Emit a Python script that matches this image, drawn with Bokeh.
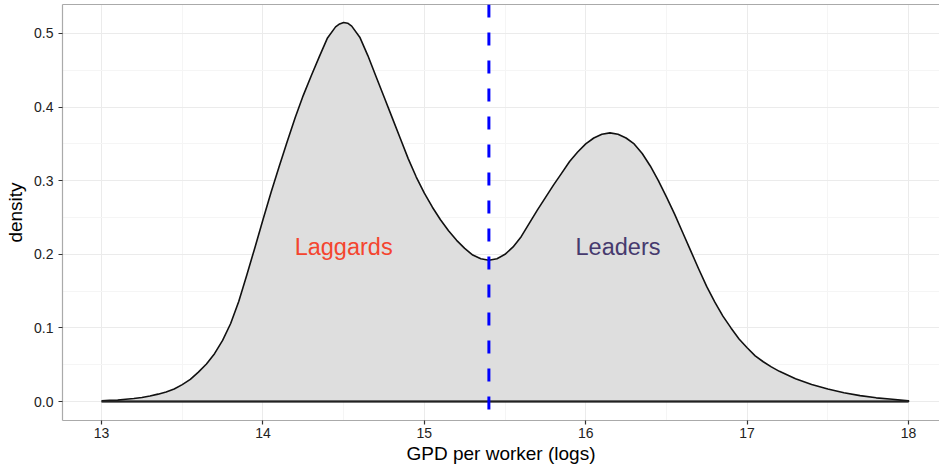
from bokeh.plotting import figure
from bokeh.models import Span, LinearAxis, Range1d, ColumnDataSource, FixedTicker, CustomJSTickFormatter
from bokeh.core.properties import value
from bokeh.embed import file_html
from bokeh.resources import INLINE

# ---- data ----
gdp_log = [13.00, 13.05, 13.10, 13.15, 13.20, 13.25, 13.30, 13.35, 13.40, 13.45,
           13.50, 13.55, 13.60, 13.65, 13.70, 13.75, 13.80, 13.85, 13.90, 13.95,
           14.00, 14.05, 14.10, 14.15, 14.20, 14.25, 14.30, 14.35, 14.40, 14.45,
           14.475, 14.50, 14.525, 14.55, 14.60, 14.65, 14.70, 14.75, 14.80, 14.85,
           14.90, 14.95, 15.00, 15.05, 15.10, 15.15, 15.20, 15.25, 15.30, 15.35,
           15.40, 15.45, 15.50, 15.55, 15.60, 15.65, 15.70, 15.75, 15.80, 15.85,
           15.90, 15.95, 16.00, 16.05, 16.10, 16.15, 16.20, 16.25, 16.30, 16.35,
           16.40, 16.45, 16.50, 16.55, 16.60, 16.65, 16.70, 16.75, 16.80, 16.85,
           16.90, 16.95, 17.00, 17.05, 17.10, 17.15, 17.20, 17.30, 17.40, 17.50,
           17.60, 17.70, 17.80, 17.90, 18.00]
density = [0.001, 0.0015, 0.002, 0.003, 0.004, 0.0055, 0.0075, 0.010, 0.013, 0.017,
           0.023, 0.030, 0.040, 0.051, 0.065, 0.083, 0.106, 0.136, 0.172, 0.209,
           0.247, 0.284, 0.319, 0.353, 0.386, 0.416, 0.443, 0.469, 0.494, 0.509,
           0.513, 0.515, 0.514, 0.510, 0.495, 0.470, 0.442, 0.414, 0.386, 0.358,
           0.330, 0.305, 0.283, 0.264, 0.247, 0.232, 0.219, 0.208, 0.199, 0.194,
           0.192, 0.194, 0.200, 0.210, 0.224, 0.242, 0.260, 0.277, 0.294, 0.310,
           0.326, 0.339, 0.350, 0.358, 0.363, 0.365, 0.363, 0.358, 0.350, 0.337,
           0.320, 0.300, 0.278, 0.255, 0.230, 0.205, 0.180, 0.156, 0.135, 0.116,
           0.100, 0.085, 0.073, 0.062, 0.054, 0.047, 0.041, 0.031, 0.023, 0.017,
           0.012, 0.008, 0.005, 0.003, 0.001]
cutoff = 15.4
label_x = [14.5, 16.2]
label_y = [0.21, 0.21]
label_text = ["Laggards", "Leaders"]
label_color = ["#F4452F", "#463A6E"]
x_ticks = [13, 14, 15, 16, 17, 18]
y_ticks = [0.0, 0.1, 0.2, 0.3, 0.4, 0.5]
x_minor = [13.5, 14.5, 15.5, 16.5, 17.5]
y_minor = [0.05, 0.15, 0.25, 0.35, 0.45]

FONT = "Liberation Sans"

p = figure(width=939, height=472, output_backend="svg", toolbar_location=None,
           x_range=Range1d(12.758, 18.192), y_range=Range1d(-0.0258, 0.5394),
           min_border_left=62, min_border_right=0, min_border_top=4, min_border_bottom=52)
p.outline_line_color = None
p.background_fill_color = "white"
p.border_fill_color = "white"

# grids
p.xgrid.ticker = FixedTicker(ticks=x_ticks, minor_ticks=x_minor)
p.ygrid.ticker = FixedTicker(ticks=y_ticks, minor_ticks=y_minor)
for g in (p.xgrid, p.ygrid):
    g.grid_line_color = "#EBEBEB"
    g.grid_line_width = 1
    g.minor_grid_line_color = "#F5F5F5"
    g.minor_grid_line_width = 1

# axes
p.xaxis.ticker = FixedTicker(ticks=x_ticks)
p.yaxis.ticker = FixedTicker(ticks=y_ticks)
p.yaxis.formatter = CustomJSTickFormatter(code="return tick.toFixed(1);")
p.xaxis.axis_label = "GPD per worker (logs)"
p.yaxis.axis_label = "density"
for ax in (p.xaxis[0], p.yaxis[0]):
    ax.axis_line_color = "#AAAAAA"
    ax.axis_line_width = 1.2
    ax.major_tick_line_color = "#333333"
    ax.major_tick_line_width = 1.2
    ax.major_tick_out = 4
    ax.major_tick_in = 0
    ax.minor_tick_line_color = None
    ax.major_label_text_font = FONT
    ax.major_label_text_font_size = "14px"
    ax.major_label_text_color = "#222222"
    ax.axis_label_text_font = FONT
    ax.axis_label_text_font_size = "19px"
    ax.axis_label_text_font_style = "normal"
    ax.axis_label_text_color = "#000000"
p.xaxis.major_label_standoff = 3
p.xaxis.axis_label_standoff = 2
p.yaxis.major_label_standoff = 5
p.yaxis.axis_label_standoff = 5

top = LinearAxis(ticker=FixedTicker(ticks=[]), axis_line_color="#AAAAAA", axis_line_width=1.2,
                 major_tick_line_color=None, minor_tick_line_color=None,
                 major_label_text_font_size="0px", major_label_standoff=0)
p.add_layout(top, "above")

# density area
p.varea(x=gdp_log, y1=[0] * len(gdp_log), y2=density, fill_color="#DEDEDE")
p.line(x=gdp_log + [gdp_log[-1], gdp_log[0]], y=density + [0, 0], line_color="#111111",
       line_width=1.6, line_join="round")
p.line(x=[gdp_log[0], gdp_log[-1]], y=[0, 0], line_color="#222222", line_width=2.2)

# cutoff
p.add_layout(Span(location=cutoff, dimension="height", line_color="#0000FF",
                  line_width=3, line_dash="13 15"))

# labels
src = ColumnDataSource(dict(x=label_x, y=label_y, text=label_text, color=label_color))
p.text(x="x", y="y", text="text", text_color="color", source=src,
       text_font=value(FONT), text_font_size="23.5px", text_align="center", text_baseline="middle")

open("out.html", "w").write(file_html(p, INLINE))
